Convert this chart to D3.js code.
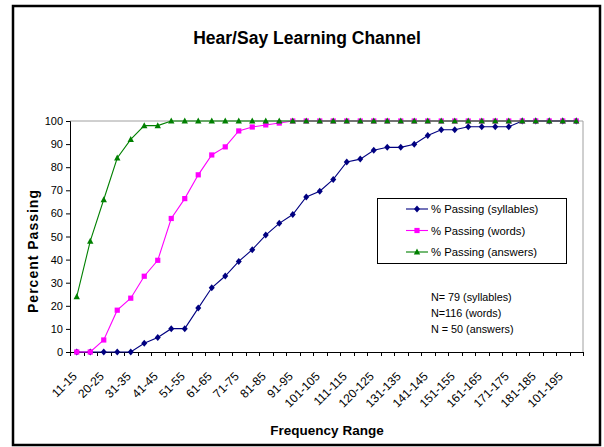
<!DOCTYPE html>
<html>
<head>
<meta charset="utf-8">
<script src="https://cdn.jsdelivr.net/npm/d3@7"></script>
<style>
  body { margin: 0; background: #fff; }
  text { font-family: "Liberation Sans", Arial, sans-serif; }
</style>
</head>
<body>
<div id="chart"></div>
<script>
const ranges = ["11-15", "16-19", "20-25", "26-30", "31-35", "36-40", "41-45", "46-50",
  "51-55", "56-60", "61-65", "66-70", "71-75", "76-80", "81-85", "86-90", "91-95", "96-100",
  "101-105", "106-110", "111-115", "116-119", "120-125", "126-130", "131-135", "136-140",
  "141-145", "146-150", "151-155", "156-160", "161-165", "166-170", "171-175", "176-180",
  "181-185", "186-190", "101-195", "196-200"];

const syllables = [0, 0, 0, 0, 0, 3.8, 6.3, 10.1, 10.1, 19.0, 27.8, 32.9, 39.2, 44.3, 50.6,
  55.7, 59.5, 67.1, 69.6, 74.7, 82.3, 83.5, 87.3, 88.6, 88.6, 89.9, 93.7, 96.2, 96.2, 97.5,
  97.5, 97.5, 97.5, 100, 100, 100, 100, 100];

const words = [0, 0, 5.2, 18.1, 23.3, 32.8, 39.7, 57.8, 66.4, 76.7, 85.3, 88.8, 95.7, 97.4,
  98.3, 99.1, 100, 100, 100, 100, 100, 100, 100, 100, 100, 100, 100, 100, 100, 100, 100, 100,
  100, 100, 100, 100, 100, 100];

const answers = [24, 48, 66, 84, 92, 98, 98, 100, 100, 100, 100, 100, 100, 100, 100, 100, 100,
  100, 100, 100, 100, 100, 100, 100, 100, 100, 100, 100, 100, 100, 100, 100, 100, 100, 100,
  100, 100, 100];

const seriesNames = ["% Passing (syllables)", "% Passing (words)", "% Passing (answers)"];
const seriesColors = ["#000080", "#ff00ff", "#008000"];
const seriesMarkers = ["diamond", "square", "triangle"];
const yTicks = [0, 10, 20, 30, 40, 50, 60, 70, 80, 90, 100];
const notes = ["N= 79 (syllables)", "N=116 (words)", "N = 50 (answers)"];

const W = 604, H = 447;
const plot = { left: 70, right: 583, top: 121, bottom: 352 };

var svg = d3.select("#chart").append("svg")
  .attr("width", W)
  .attr("height", H);

// outer frame
svg.append("rect")
  .attr("x", 13).attr("y", 6)
  .attr("width", 587).attr("height", 439)
  .attr("fill", "#fff")
  .attr("stroke", "#000")
  .attr("stroke-width", 2.5);

var x = d3.scaleBand().domain(ranges).range([plot.left, plot.right]);
var y = d3.scaleLinear().domain([0, 100]).range([plot.bottom, plot.top]);

// plot area border (grey)
svg.append("path")
  .attr("d", "M" + plot.left + "," + y(100) + "H" + plot.right + "V" + plot.bottom)
  .attr("fill", "none")
  .attr("stroke", "#a0a0a0")
  .attr("stroke-width", 1);

// y axis
var yAxis = svg.append("g")
  .attr("transform", "translate(" + plot.left + ",0)")
  .call(d3.axisLeft(y).tickValues(yTicks).tickSize(4).tickPadding(3));
yAxis.select(".domain").attr("stroke", "#000");
yAxis.selectAll("text").style("font-size", "11px").attr("fill", "#000");

// x axis: ticks between categories
var xg = svg.append("g");
xg.append("line")
  .attr("x1", plot.left).attr("x2", plot.right)
  .attr("y1", plot.bottom + 0.5).attr("y2", plot.bottom + 0.5)
  .attr("stroke", "#000");
xg.selectAll(".tick")
  .data(ranges.concat([null]))
  .enter().append("line")
  .attr("class", "tick")
  .attr("x1", function(d, i) { return Math.round(plot.left + i * x.step()) + 0.5; })
  .attr("x2", function(d, i) { return Math.round(plot.left + i * x.step()) + 0.5; })
  .attr("y1", plot.bottom)
  .attr("y2", plot.bottom + 4)
  .attr("stroke", "#000");

// only every second range fits under the axis
xg.selectAll(".xlabel")
  .data(ranges.filter(function(d, i) { return i % 2 === 0; }))
  .enter().append("text")
  .attr("class", "xlabel")
  .attr("text-anchor", "end")
  .style("font-size", "12px")
  .attr("transform", function(d) {
    return "translate(" + (x(d) + x.bandwidth() / 2 + 1) + "," + (plot.bottom + 25) + ") rotate(-45)";
  })
  .text(function(d) { return d; });

function markerPath(type) {
  if (type === "diamond") return "M0,-3.5L3,0L0,3.5L-3,0Z";
  if (type === "square") return "M-2.6,-2.6H2.6V2.6H-2.6Z";
  return "M0,-3.4L3.2,2.6H-3.2Z";
}

var allSeries = [syllables, words, answers];
var line = d3.line()
  .x(function(d, i) { return x(ranges[i]) + x.bandwidth() / 2; })
  .y(function(d) { return y(d); });

allSeries.forEach(function(values, s) {
  svg.append("path")
    .datum(values)
    .attr("d", line)
    .attr("fill", "none")
    .attr("stroke", seriesColors[s])
    .attr("stroke-width", 1.1);
  svg.selectAll(".m" + s)
    .data(values)
    .enter().append("path")
    .attr("class", "m" + s)
    .attr("d", markerPath(seriesMarkers[s]))
    .attr("fill", seriesColors[s])
    .attr("transform", function(d, i) {
      return "translate(" + (x(ranges[i]) + x.bandwidth() / 2) + "," + y(d) + ")";
    });
});

// legend
var legend = svg.append("g").attr("transform", "translate(377,198)");
legend.append("rect")
  .attr("x", 0.5).attr("y", 0.5)
  .attr("width", 189).attr("height", 65)
  .attr("fill", "#fff")
  .attr("stroke", "#000");
var items = legend.selectAll(".item")
  .data(seriesNames)
  .enter().append("g")
  .attr("transform", function(d, i) { return "translate(0," + (11 + i * 21.5) + ")"; });
items.append("line")
  .attr("x1", 29).attr("x2", 51)
  .attr("stroke", function(d, i) { return seriesColors[i]; })
  .attr("stroke-width", 1.1);
items.append("path")
  .attr("d", function(d, i) { return markerPath(seriesMarkers[i]); })
  .attr("fill", function(d, i) { return seriesColors[i]; })
  .attr("transform", "translate(40,0)");
items.append("text")
  .attr("x", 54).attr("y", 4)
  .style("font-size", "11.3px")
  .text(function(d) { return d; });

// notes
svg.selectAll(".note")
  .data(notes)
  .enter().append("text")
  .attr("class", "note")
  .attr("x", 431)
  .attr("y", function(d, i) { return 301 + i * 16.2; })
  .style("font-size", "10.8px")
  .text(function(d) { return d; });

// titles
svg.append("text")
  .attr("x", 307).attr("y", 44)
  .attr("text-anchor", "middle")
  .style("font-size", "17.5px")
  .style("font-weight", "bold")
  .text("Hear/Say Learning Channel");

svg.append("text")
  .attr("x", 327).attr("y", 435)
  .attr("text-anchor", "middle")
  .style("font-size", "13.5px")
  .style("font-weight", "bold")
  .text("Frequency Range");

svg.append("text")
  .attr("transform", "translate(38,251) rotate(-90)")
  .attr("text-anchor", "middle")
  .style("font-size", "14px")
  .style("font-weight", "bold")
  .style("letter-spacing", "1px")
  .text("Percent Passing");
</script>
</body>
</html>
